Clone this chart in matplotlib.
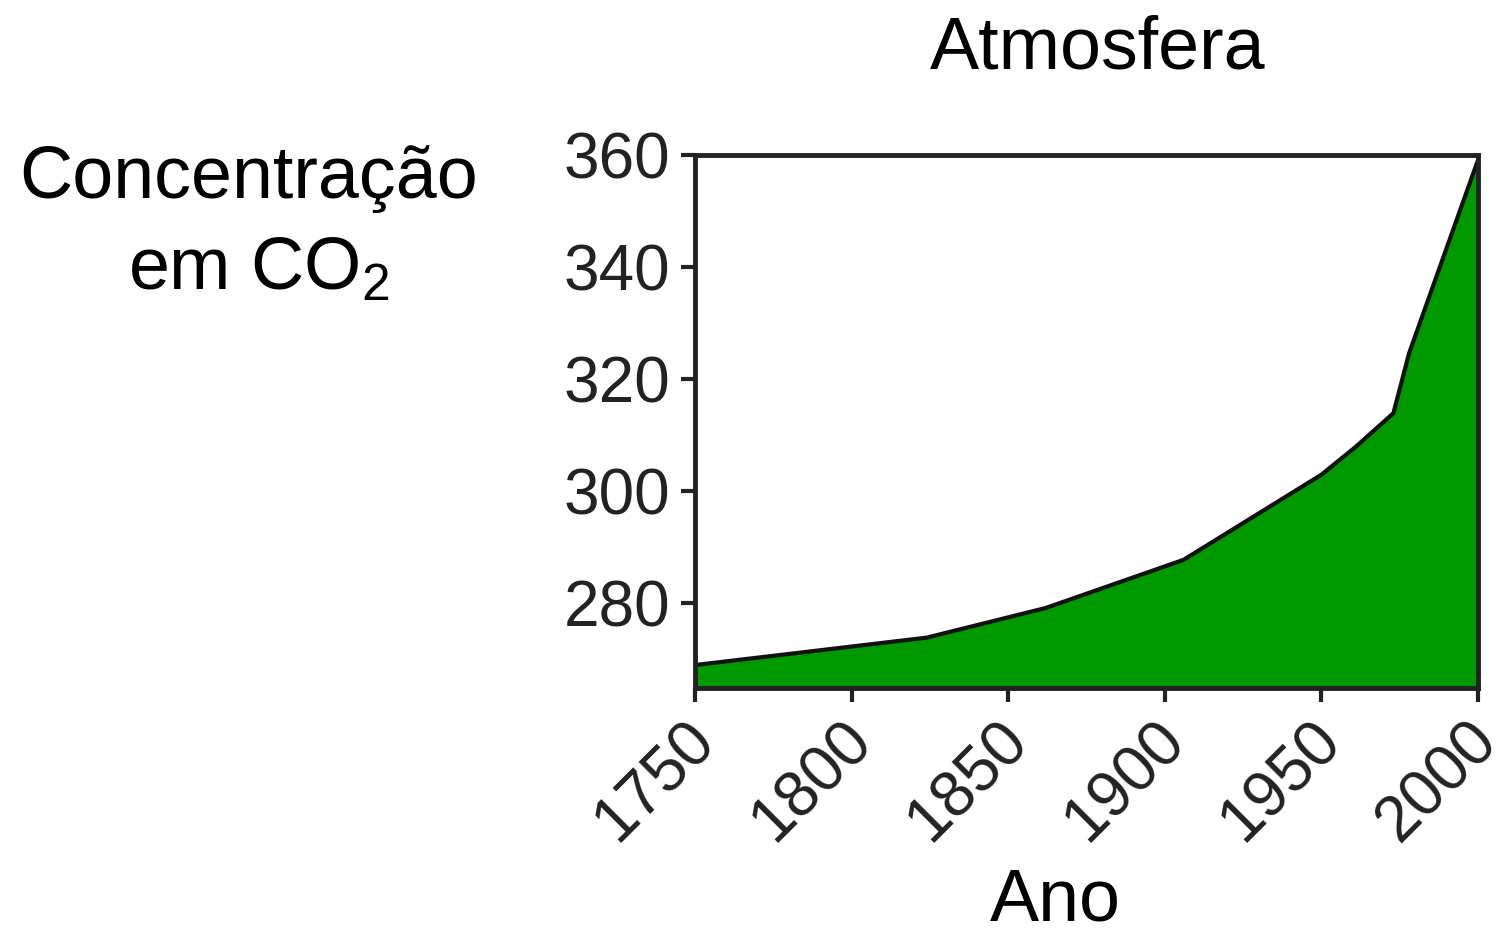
import matplotlib
matplotlib.use('Agg')
import matplotlib.pyplot as plt
import matplotlib.transforms as mtransforms

plt.rcParams['font.family'] = ['Liberation Sans', 'DejaVu Sans']
plt.rcParams['mathtext.fontset'] = 'custom'
plt.rcParams['mathtext.rm'] = 'Liberation Sans'
plt.rcParams['mathtext.it'] = 'Liberation Sans'

years = [1750, 1824, 1862, 1906, 1950, 1961, 1973, 1978, 2000]
co2 = [268.9, 273.8, 279.1, 287.7, 302.9, 307.9, 313.9, 324.6, 359.1]
xticks = [1750, 1800, 1850, 1900, 1950, 2000]
yticks = [280, 300, 320, 340, 360]

fig = plt.figure(figsize=(15.08, 9.39), dpi=100)
ax = fig.add_axes([0.4609, 0.2673, 0.5192, 0.5676])

ax.fill_between(years, 265, co2, color='#009900', lw=0)
ax.plot(years, co2, color='#111111', lw=3)
ax.set_xlim(1750, 2000)
ax.set_ylim(264.8, 360)
ax.set_xticks(xticks)
ax.set_yticks(yticks)
ax.set_xticklabels([str(t) for t in xticks], rotation=45, ha='right',
                   rotation_mode='anchor', fontsize=43)
ax.tick_params(labelsize=46, width=3, length=10, color='#222222',
               labelcolor='#222222', pad=8)
ax.tick_params(axis='x', pad=6)
# nudge the rotated year labels a little to the left so "2000" fits
shift = mtransforms.ScaledTranslation(-8 / 72, 0, fig.dpi_scale_trans)
for lab in ax.get_xticklabels():
    lab.set_transform(lab.get_transform() + shift)
for s in ax.spines.values():
    s.set_linewidth(3.5)
    s.set_color('#222222')

fig.text(0.728, 0.948, 'Atmosfera', fontsize=53, ha='center', va='center')
fig.text(0.165, 0.81, 'Concentração', fontsize=53, ha='center', va='center')
fig.text(0.172, 0.713, 'em CO$_2$', fontsize=53, ha='center', va='center')
fig.text(0.70, 0.04, 'Ano', fontsize=53, ha='center', va='center')

fig.savefig('out.png', dpi=100)
